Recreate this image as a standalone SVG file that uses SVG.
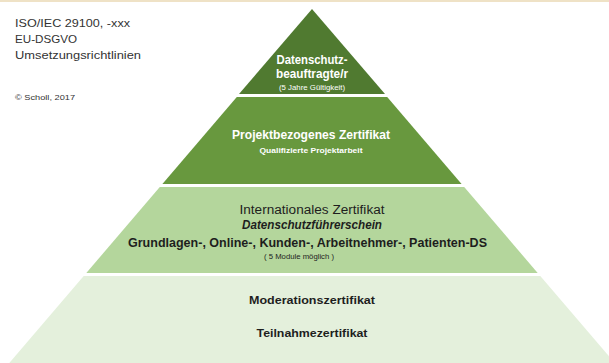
<svg xmlns="http://www.w3.org/2000/svg" width="609" height="363" viewBox="0 0 609 363">
<style>
text{font-family:"Liberation Sans","DejaVu Sans",sans-serif;}
.note{font-size:11px;fill:#333;}
.w{fill:#ffffff;font-weight:bold;text-anchor:middle;}
.d{fill:#1e1e1e;text-anchor:middle;}
</style>
<rect x="0" y="0" width="609" height="363" fill="#ffffff"/>
<rect x="0" y="0" width="609" height="2" fill="#efe2c6"/>
<g id="notes">
<text class="note" x="15" y="27" textLength="115" lengthAdjust="spacingAndGlyphs">ISO/IEC 29100, -xxx</text>
<text class="note" x="15" y="43" textLength="62" lengthAdjust="spacingAndGlyphs">EU-DSGVO</text>
<text class="note" x="15" y="59" textLength="126" lengthAdjust="spacingAndGlyphs">Umsetzungsrichtlinien</text>
<text class="note" x="15" y="100" style="font-size:7.5px" textLength="60" lengthAdjust="spacingAndGlyphs">© Scholl, 2017</text>
</g>
<g id="level1">
<polygon points="312,9 239,94 385,94" fill="#507a30"/>
<text class="w" x="312" y="64" style="font-size:12px" textLength="71" lengthAdjust="spacingAndGlyphs">Datenschutz-</text>
<text class="w" x="312" y="78" style="font-size:12px" textLength="72" lengthAdjust="spacingAndGlyphs">beauftragte/r</text>
<text class="w" x="312" y="90" style="font-size:6.5px;font-weight:normal" textLength="66" lengthAdjust="spacingAndGlyphs">(5 Jahre Gültigkeit)</text>
</g>
<g id="level2">
<polygon points="236.8,97 387.2,97 461.6,184 162.4,184" fill="#68983e"/>
<text class="w" x="311" y="139" style="font-size:12.5px" textLength="158" lengthAdjust="spacingAndGlyphs">Projektbezogenes Zertifikat</text>
<text class="w" x="311" y="153" style="font-size:8px" textLength="103" lengthAdjust="spacingAndGlyphs">Qualifizierte Projektarbeit</text>
</g>
<g id="level3">
<polygon points="159.8,187 464.2,187 537.7,273 86.3,273" fill="#b4d69c"/>
<text class="d" x="312" y="214" style="font-size:12px" textLength="145" lengthAdjust="spacingAndGlyphs">Internationales Zertifikat</text>
<text class="d" x="312" y="229" style="font-size:12px;font-weight:bold;font-style:italic" textLength="140" lengthAdjust="spacingAndGlyphs">Datenschutzführerschein</text>
<text class="d" x="307.5" y="247" style="font-size:12px;font-weight:bold" textLength="359" lengthAdjust="spacingAndGlyphs">Grundlagen-, Online-, Kunden-, Arbeitnehmer-, Patienten-DS</text>
<text class="d" x="299" y="259" style="font-size:6.5px" textLength="70" lengthAdjust="spacingAndGlyphs">( 5 Module möglich )</text>
</g>
<g id="level4">
<polygon points="83.7,276 540.3,276 614.7,363 9.3,363" fill="#e4f0dc"/>
<text class="d" x="312" y="304" style="font-size:11.5px;font-weight:bold" textLength="126" lengthAdjust="spacingAndGlyphs">Moderationszertifikat</text>
<text class="d" x="312" y="337" style="font-size:11.5px;font-weight:bold" textLength="111" lengthAdjust="spacingAndGlyphs">Teilnahmezertifikat</text>
</g>
<g id="connectors"></g>
</svg>
